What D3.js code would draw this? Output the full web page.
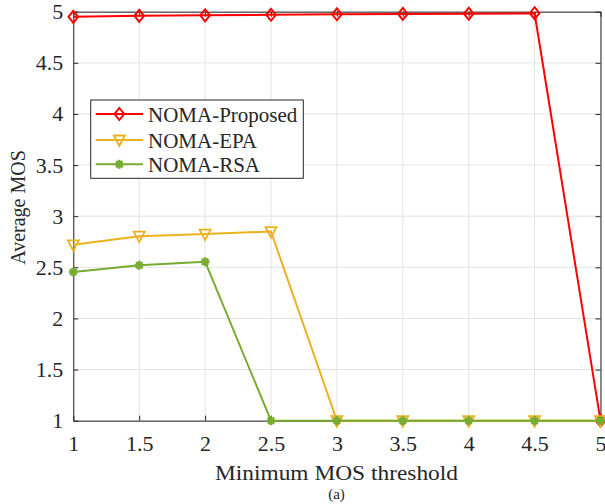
<!DOCTYPE html>
<html>
<head>
<meta charset="utf-8">
<script src="https://cdn.jsdelivr.net/npm/d3@7"></script>
<style>
  html, body { margin: 0; padding: 0; background: #fff; }
  svg text { font-family: "Liberation Serif", "Times New Roman", serif; fill: #262626; }
</style>
</head>
<body>
<svg id="chart" width="605" height="504"></svg>
<script>
// Minimum MOS threshold (x) and average MOS of each scheme
const thresholds = [1, 1.5, 2, 2.5, 3, 3.5, 4, 4.5, 5];
const proposed = [4.95, 4.96, 4.965, 4.97, 4.975, 4.978, 4.98, 4.985, 1];
const epa = [2.72, 2.805, 2.825, 2.85, 1, 1, 1, 1, 1];
const rsa = [2.455, 2.52, 2.555, 1, 1, 1, 1, 1, 1];
const xTicks = [1, 1.5, 2, 2.5, 3, 3.5, 4, 4.5, 5];
const yTicks = [1, 1.5, 2, 2.5, 3, 3.5, 4, 4.5, 5];

const seriesList = [
  { name: "NOMA-Proposed", values: proposed, color: "#ff0000", marker: "diamond", width: 2 },
  { name: "NOMA-EPA", values: epa, color: "#EDB120", marker: "triangle", width: 2 },
  { name: "NOMA-RSA", values: rsa, color: "#77AC30", marker: "star", width: 2 }
];

const svg = d3.select("#chart");
const plotLeft = 73.3, plotRight = 600.5, plotTop = 11.7, plotBottom = 420.7;
const x = d3.scaleLinear().domain([1, 5]).range([plotLeft, plotRight]);
const y = d3.scaleLinear().domain([1, 5]).range([plotBottom, plotTop]);
const axisColor = "#262626";

// grid
const grid = svg.append("g");
grid.selectAll("line.gx").data(xTicks).join("line")
  .attr("x1", d => x(d)).attr("x2", d => x(d)).attr("y1", plotTop).attr("y2", plotBottom)
  .attr("stroke", "#e3e3e3").attr("stroke-width", 1);
grid.selectAll("line.gy").data(yTicks).join("line")
  .attr("y1", d => y(d)).attr("y2", d => y(d)).attr("x1", plotLeft).attr("x2", plotRight)
  .attr("stroke", "#e3e3e3").attr("stroke-width", 1);

// axes (ticks point inward on all four sides)
const tickLen = 5;
const xAxis = d3.axisBottom(x).tickValues(xTicks).tickSizeInner(-tickLen).tickSizeOuter(0)
  .tickPadding(15).tickFormat(d3.format("~g"));
const yAxis = d3.axisLeft(y).tickValues(yTicks).tickSizeInner(-tickLen).tickSizeOuter(0)
  .tickPadding(10).tickFormat(d3.format("~g"));
const gx = svg.append("g").attr("transform", `translate(0,${plotBottom})`).call(xAxis);
const gy = svg.append("g").attr("transform", `translate(${plotLeft},0)`).call(yAxis);
const gxTop = svg.append("g").attr("transform", `translate(0,${plotTop})`)
  .call(d3.axisTop(x).tickValues(xTicks).tickSizeInner(-tickLen).tickSizeOuter(0).tickFormat(""));
const gyRight = svg.append("g").attr("transform", `translate(${plotRight},0)`)
  .call(d3.axisRight(y).tickValues(yTicks).tickSizeInner(-tickLen).tickSizeOuter(0).tickFormat(""));
[gx, gy, gxTop, gyRight].forEach(g => {
  g.select(".domain").attr("stroke", axisColor).attr("stroke-width", 1);
  g.selectAll(".tick line").attr("stroke", axisColor);
  g.selectAll(".tick text").attr("font-size", 22).attr("fill", axisColor)
    .style("font-family", '"Liberation Serif", serif');
});

// axis titles
svg.append("text").attr("x", 336.5).attr("y", 480).attr("text-anchor", "middle")
  .attr("font-size", 20).attr("textLength", 243).attr("lengthAdjust", "spacingAndGlyphs")
  .text("Minimum MOS threshold");
svg.append("text").attr("x", 336.5).attr("y", 499).attr("text-anchor", "middle")
  .attr("font-size", 15).text("(a)");
svg.append("text").attr("transform", "translate(25,207.5) rotate(-90)")
  .attr("text-anchor", "middle").attr("font-size", 20).text("Average MOS");

// marker shapes
function drawMarker(g, type, cx, cy, color) {
  if (type === "diamond") {
    const rx = 4.8, ry = 6;
    g.append("path").attr("d", `M${cx},${cy - ry}L${cx + rx},${cy}L${cx},${cy + ry}L${cx - rx},${cy}Z`)
      .attr("fill", "none").attr("stroke", color).attr("stroke-width", 2);
  } else if (type === "triangle") {
    const r = 5.5;
    g.append("path").attr("d", `M${cx - r},${cy - 4.5}L${cx + r},${cy - 4.5}L${cx},${cy + 6}Z`)
      .attr("fill", "none").attr("stroke", color).attr("stroke-width", 1.8)
      .attr("stroke-linejoin", "miter");
  } else {
    const r = 4.5;
    for (let k = 0; k < 4; k++) {
      const a = k * Math.PI / 4;
      g.append("line")
        .attr("x1", cx - r * Math.cos(a)).attr("y1", cy - r * Math.sin(a))
        .attr("x2", cx + r * Math.cos(a)).attr("y2", cy + r * Math.sin(a))
        .attr("stroke", color).attr("stroke-width", 2.4);
    }
    g.append("circle").attr("cx", cx).attr("cy", cy).attr("r", 3).attr("fill", color);
  }
}

const line = d3.line().x((d, i) => x(thresholds[i])).y(d => y(d));
const plot = svg.append("g");
seriesList.forEach(s => {
  const g = plot.append("g");
  g.append("path").datum(s.values).attr("d", line)
    .attr("fill", "none").attr("stroke", s.color).attr("stroke-width", s.width)
    .attr("stroke-linejoin", "round");
  s.values.forEach((v, i) => drawMarker(g, s.marker, x(thresholds[i]), y(v), s.color));
});

// legend
const lg = svg.append("g");
lg.append("rect").attr("x", 90.7).attr("y", 100).attr("width", 212.6).attr("height", 78.3)
  .attr("fill", "#fff").attr("stroke", axisColor).attr("stroke-width", 1);
const rowsY = [114, 140, 164.3];
seriesList.forEach((s, i) => {
  const ly = rowsY[i];
  lg.append("line").attr("x1", 95.7).attr("x2", 143).attr("y1", ly).attr("y2", ly)
    .attr("stroke", s.color).attr("stroke-width", s.width);
  drawMarker(lg, s.marker, 119.3, ly, s.color);
  lg.append("text").attr("x", 148).attr("y", ly + 7.5).attr("font-size", 21).text(s.name);
});
</script>
</body>
</html>
